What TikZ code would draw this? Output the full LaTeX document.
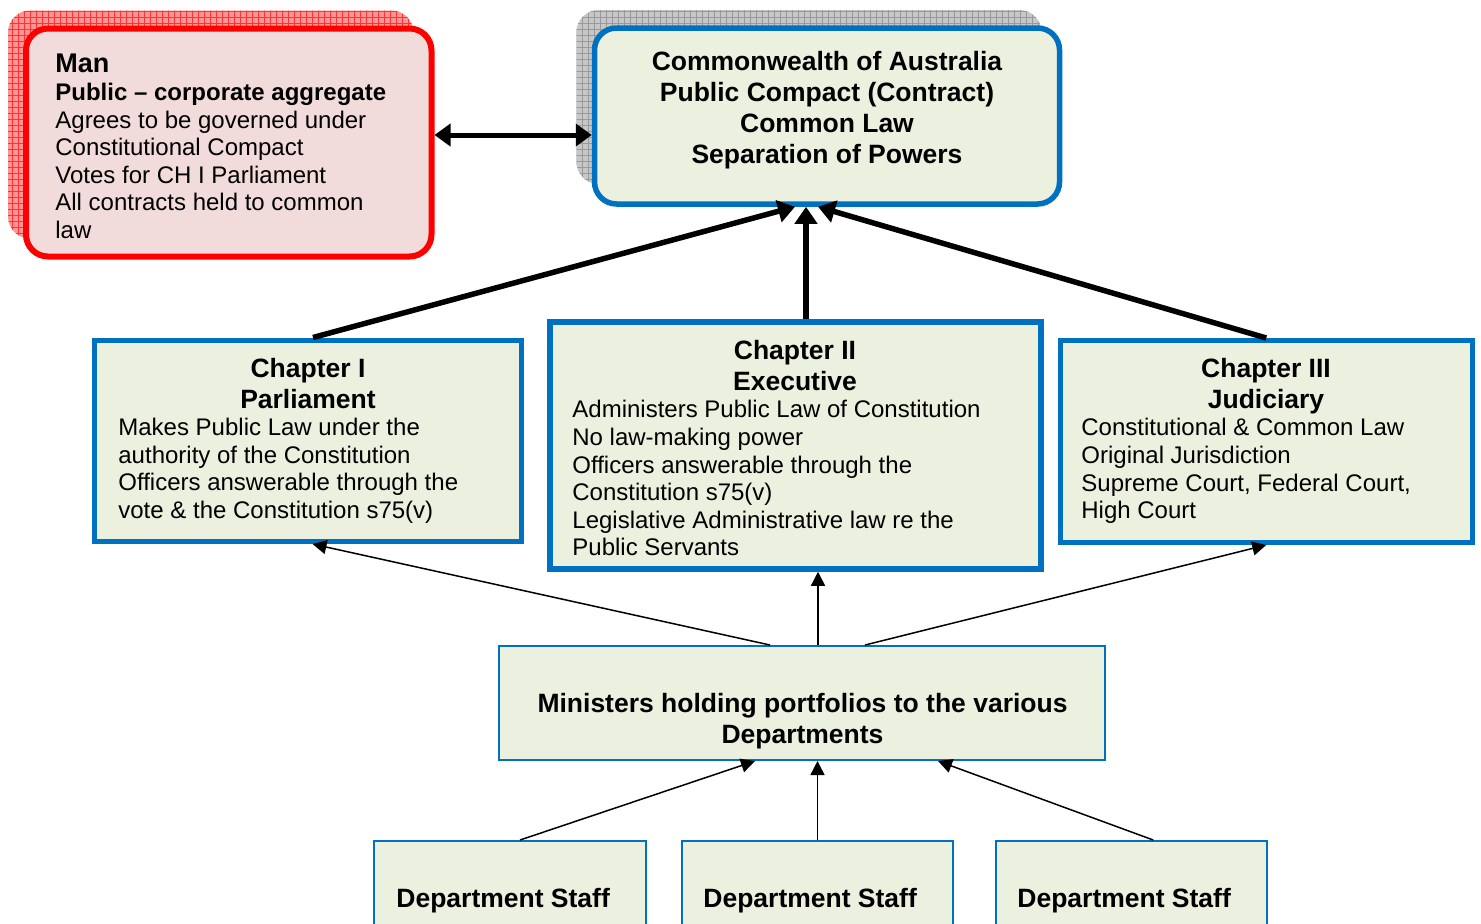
\documentclass[tikz,border=0pt]{standalone}
\usepackage{fontspec}
\setmainfont{Liberation Sans}
\usepackage{tikz}
\usetikzlibrary{patterns,fit,arrows.meta}
\definecolor{boxblue}{RGB}{0,112,192}
\definecolor{boxgreen}{RGB}{235,241,222}
\definecolor{manpink}{RGB}{242,220,219}

\begin{document}
\begin{tikzpicture}[x=0.5pt,y=-0.5pt,
  chapbox/.style={draw=boxblue, fill=boxgreen, line width=2.5pt, inner sep=0pt},
  thinbox/.style={draw=boxblue, fill=boxgreen, line width=1pt, inner sep=0pt},
  ttl/.style={font=\fontsize{13.25}{15.25}\selectfont\bfseries, align=center, inner sep=0pt, anchor=north},
  body/.style={font=\fontsize{12}{13.8}\selectfont, align=left, inner sep=0pt, anchor=north west},
  staff/.style={font=\fontsize{13.25}{15}\selectfont\bfseries, inner sep=0pt, anchor=north west},
  bigarrow/.style={line width=2.75pt, -{Triangle[length=8.5pt,width=11pt]}},
  smallarrow/.style={line width=0.75pt, -{Triangle[length=7pt,width=7pt]}}]
\useasboundingbox (0,0) rectangle (1481,923);
\clip (0,0) rectangle (1481,923);

\path[rounded corners=11pt, preaction={fill=red!42}, pattern=grid, pattern color=red!80] (8,10.5) rectangle (413.5,238.5);
\path[rounded corners=11pt, preaction={fill=black!22}, pattern=grid, pattern color=black!40] (576.5,10) rectangle (1041.5,184);

\node[draw=red, fill=manpink, line width=3pt, rounded corners=11pt, inner sep=0pt, fit={(26,28.5) (431.5,256.5)}] (man) {};
\node[chapbox, line width=2.75pt, rounded corners=11pt, fit={(594.5,28) (1059.5,204)}] (cw) {};
\node[chapbox, fit={(94.5,340) (521.5,541.5)}] (ch1) {};
\node[chapbox, line width=2.75pt, fit={(550,322) (1041,569)}] (ch2) {};
\node[chapbox, fit={(1060,340.5) (1472.5,542.5)}] (ch3) {};
\node[thinbox, fit={(499,646) (1105,760)}] (min) {};
\node[thinbox, fit={(374,841) (646,960)}] (d1) {};
\node[thinbox, fit={(682,841) (953,960)}] (d2) {};
\node[thinbox, fit={(995.5,841) (1267,960)}] (d3) {};

\node[body] (mantext) at (55,54) {{\fontsize{13.5}{13.8}\selectfont\bfseries Man}\\\textbf{Public – corporate aggregate}\\Agrees to be governed under\\Constitutional Compact\\Votes for CH I Parliament\\All contracts held to common\\law};
\node[ttl, font=\fontsize{13.25}{15.5}\selectfont\bfseries] (cwtext) at (827,51) {Commonwealth of Australia\\Public Compact (Contract)\\Common Law\\Separation of Powers};

\node[ttl] (ch1title) at (308,358) {Chapter I\\Parliament};
\node[body] (ch1text) at (118,417.8) {Makes Public Law under the\\authority of the Constitution\\Officers answerable through the\\vote \& the Constitution s75(v)};
\node[ttl] (ch2title) at (795,340) {Chapter II\\Executive};
\node[body] (ch2text) at (572,400) {Administers Public Law of Constitution\\No law-making power\\Officers answerable through the\\Constitution s75(v)\\Legislative Administrative law re the\\Public Servants};
\node[ttl] (ch3title) at (1266,358) {Chapter III\\Judiciary};
\node[body] (ch3text) at (1081,418) {Constitutional \& Common Law\\Original Jurisdiction\\Supreme Court, Federal Court,\\High Court};

\node[ttl] (mintext) at (802.5,693) {Ministers holding portfolios to the various\\Departments};
\node[staff] (d1text) at (396,888) {Department Staff};
\node[staff] (d2text) at (703,888) {Department Staff};
\node[staff] (d3text) at (1017,888) {Department Staff};

\coordinate (link) at ([yshift=3.75pt]man.east);
\draw[line width=2.5pt, {Triangle[length=8pt,width=11pt]}-{Triangle[length=8pt,width=11pt]}] (link) -- (link -| cw.west);

\draw[bigarrow] ([xshift=2.5pt]ch1.north) -- ([xshift=-16pt]cw.south);
\draw[bigarrow] ([xshift=5.25pt]ch2.north) -- ([xshift=5.25pt]ch2.north |- cw.south);
\draw[bigarrow] (ch3.north) -- ([xshift=-4.5pt]cw.south);

\draw[smallarrow] ([xshift=-16pt]min.north) -- ([xshift=2.25pt]ch1.south);
\draw[smallarrow] ([xshift=8pt]min.north) -- ([xshift=8pt]min.north |- ch2.south);
\draw[smallarrow] ([xshift=31.5pt]min.north) -- (ch3.south);

\draw[smallarrow] ([xshift=5pt]d1.north) -- ([xshift=-23.5pt]min.south);
\draw[smallarrow] (d2.north) -- (d2.north |- min.south);
\draw[smallarrow] ([xshift=11pt]d3.north) -- ([xshift=68pt]min.south);
\end{tikzpicture}
\end{document}
